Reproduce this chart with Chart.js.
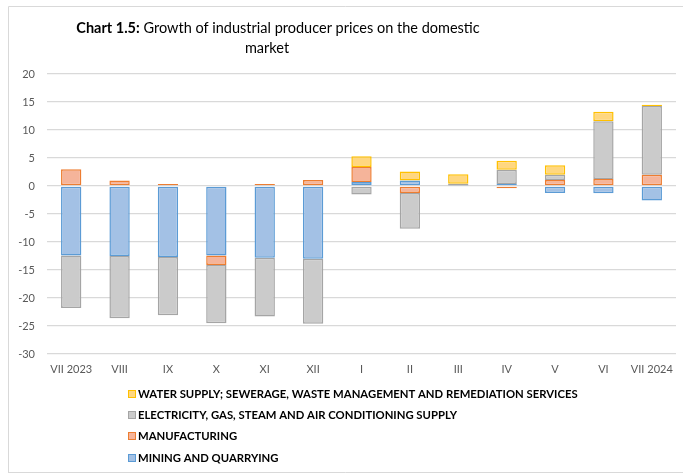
<!DOCTYPE html>
<html>
<head>
<meta charset="utf-8">
<script src="https://cdn.jsdelivr.net/npm/chart.js@4.4.1/dist/chart.umd.min.js"></script>
<style>
  body { margin: 0; background: #fff; }
  #wrap { position: relative; width: 683px; height: 474px; }
</style>
</head>
<body>
<div id="wrap"><canvas id="graphic-ppi" width="683" height="474"></canvas></div>
<script>
const months = ['VII 2023', 'VIII', 'IX', 'X', 'XI', 'XII', 'I', 'II', 'III', 'IV', 'V', 'VI', 'VII 2024'];
const yTicks = [20, 15, 10, 5, 0, -5, -10, -15, -20, -25, -30];

const mining = [-12.4, -12.5, -12.7, -12.4, -12.8, -13.0, 0.7, 1.0, 0.1, 0.35, -1.25, -1.3, -2.6];
const manufacturing = [3.0, 1.0, 0.35, -1.7, 0.35, 1.07, 2.7, -1.25, 0, -0.4, 1.07, 1.25, 2.0];
const electricity = [-9.4, -11.1, -10.4, -10.4, -10.5, -11.6, -1.5, -6.4, 0.3, 2.55, 0.95, 10.3, 12.3];
const water = [0, 0, 0, 0, 0, 0, 1.9, 1.6, 1.7, 1.6, 1.7, 1.7, 0.2];

const ctx = document.getElementById('graphic-ppi');
const fontFam = 'Lato, "Open Sans", sans-serif';

// frame + title drawn on the canvas
const frameTitle = {
    id: 'frameTitle',
    beforeDraw(chart) {
        const c = chart.ctx;
        c.save();
        c.strokeStyle = '#d9d9d9';
        c.lineWidth = 1;
        c.beginPath();
        c.moveTo(8.5, 473);
        c.lineTo(8.5, 6.5);
        c.lineTo(683, 6.5);
        c.moveTo(8.5, 472.5);
        c.lineTo(683, 472.5);
        c.stroke();

        c.fillStyle = '#000';
        c.textBaseline = 'middle';
        c.font = 'bold 14.5px ' + fontFam;
        const bold = 'Chart 1.5:';
        const rest = ' Growth of industrial producer prices on the domestic';
        const wb = c.measureText(bold).width;
        c.font = '14.5px ' + fontFam;
        const wr = c.measureText(rest).width;
        const x0 = 278 - (wb + wr) / 2;
        c.font = 'bold 14.5px ' + fontFam;
        c.textAlign = 'left';
        c.fillText(bold, x0, 28);
        c.font = '14.5px ' + fontFam;
        c.fillText(rest, x0 + wb, 28);
        c.textAlign = 'center';
        c.fillText('market', 267, 48);
        c.restore();
    }
};

// one legend entry per row, top entry = last series
const rowLegend = {
    id: 'rowLegend',
    afterDraw(chart) {
        const c = chart.ctx;
        const rows = [394, 415, 436, 458];
        const sets = chart.data.datasets.slice().reverse();
        c.save();
        c.font = 'bold 11.3px ' + fontFam;
        c.textBaseline = 'middle';
        c.textAlign = 'left';
        sets.forEach(function (ds, i) {
            const y = rows[i];
            c.fillStyle = ds.backgroundColor;
            c.fillRect(128, y - 4, 8, 8);
            c.strokeStyle = ds.borderColor;
            c.lineWidth = 1;
            c.strokeRect(128.5, y - 3.5, 7, 7);
            c.fillStyle = '#000';
            c.fillText(ds.label, 138, y + 0.5);
        });
        c.restore();
    }
};

new Chart(ctx, {
    type: 'bar',
    data: {
        labels: months,
        datasets: [{
            label: 'MINING AND QUARRYING',
            data: mining,
            backgroundColor: '#a3c1e5',
            borderColor: '#5b9bd5',
            borderWidth: 1.5,
            borderSkipped: false
        }, {
            label: 'MANUFACTURING',
            data: manufacturing,
            backgroundColor: '#f5b49a',
            borderColor: '#ed7d31',
            borderWidth: 1.5,
            borderSkipped: false
        }, {
            label: 'ELECTRICITY, GAS, STEAM AND AIR CONDITIONING SUPPLY',
            data: electricity,
            backgroundColor: '#cbcbcb',
            borderColor: '#a5a5a5',
            borderWidth: 1.5,
            borderSkipped: false
        }, {
            label: 'WATER SUPPLY; SEWERAGE, WASTE MANAGEMENT AND REMEDIATION SERVICES',
            data: water,
            backgroundColor: '#ffd780',
            borderColor: '#ffc000',
            borderWidth: 1.5,
            borderSkipped: false
        }]
    },
    options: {
        responsive: false,
        maintainAspectRatio: false,
        animation: false,
        layout: {
            padding: { top: 74, left: 0, right: 7, bottom: 90 }
        },
        datasets: {
            bar: { categoryPercentage: 1, barPercentage: 0.42 }
        },
        scales: {
            x: {
                stacked: true,
                grid: { display: false, drawTicks: false },
                border: { display: false },
                ticks: {
                    color: '#595959',
                    padding: 9,
                    maxRotation: 0,
                    autoSkip: false,
                    font: { family: fontFam, size: 11 }
                },
                afterFit: function (scale) { scale.height = 30; }
            },
            y: {
                stacked: true,
                min: -30,
                max: 20,
                afterBuildTicks: function (scale) {
                    scale.ticks = yTicks.map(function (v) { return { value: v }; });
                },
                grid: { color: '#d9d9d9', lineWidth: 1.3, drawTicks: false },
                border: { display: false },
                ticks: {
                    color: '#595959',
                    padding: 12,
                    font: { family: fontFam, size: 11 }
                },
                afterFit: function (scale) { scale.width = 47; }
            }
        },
        plugins: {
            legend: { display: false },
            tooltip: { enabled: false }
        }
    },
    plugins: [frameTitle, rowLegend]
});
</script>
</body>
</html>
